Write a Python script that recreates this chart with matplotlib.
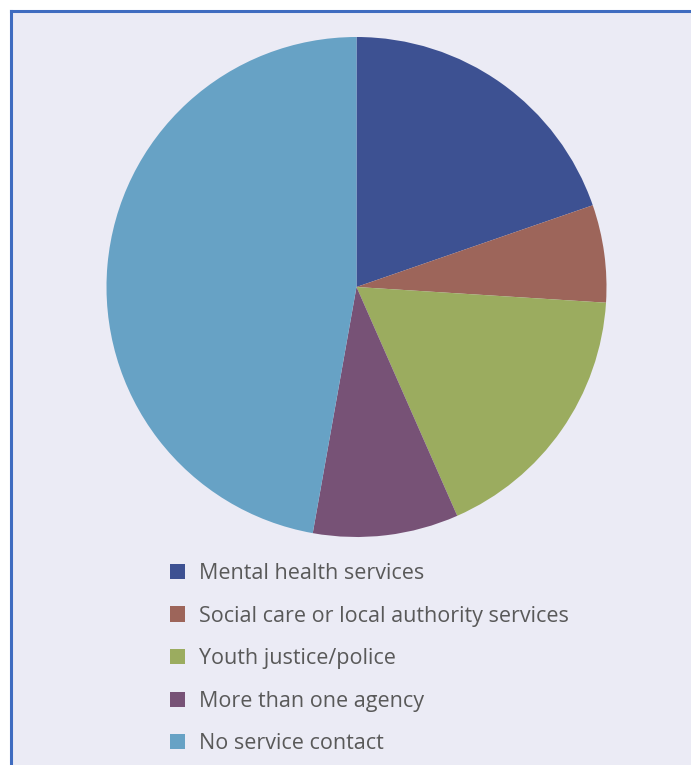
import matplotlib
matplotlib.use("Agg")
import matplotlib.pyplot as plt
from matplotlib.patches import Rectangle
from matplotlib.lines import Line2D

labels = ["Mental health services", "Social care or local authority services",
          "Youth justice/police", "More than one agency", "No service contact"]
shares = [19.7, 6.3, 17.4, 9.4, 47.2]
colors = ["#3D5192", "#9D655A", "#9BAC5F", "#775276", "#67A2C5"]

W, H = 691, 765
fig = plt.figure(figsize=(W / 100, H / 100), dpi=100, facecolor="white")

# panel background + blue frame (top and left)
fig.patches.append(Rectangle((11 / W, 0), 1, 1 - 11 / H, transform=fig.transFigure,
                             facecolor="#EBEBF5", edgecolor="none", zorder=-5))
fig.lines.append(Line2D([11 / W, 1], [1 - 11 / H, 1 - 11 / H], transform=fig.transFigure,
                        color="#3F6CC0", lw=2.2, zorder=-4))
fig.lines.append(Line2D([11 / W, 11 / W], [0, 1 - 11 / H], transform=fig.transFigure,
                        color="#3F6CC0", lw=2.2, zorder=-4))

cx, cy, r = 356.5, 287, 250
ax = fig.add_axes([(cx - r) / W, (H - cy - r) / H, 2 * r / W, 2 * r / H], zorder=2)
ax.set_facecolor("none")
wedges, _ = ax.pie(shares, colors=colors, startangle=90, counterclock=False,
                   radius=1, wedgeprops=dict(linewidth=0))
ax.set_xlim(-1, 1)
ax.set_ylim(-1, 1)
ax.axis("off")

leg = fig.legend(wedges, labels, loc="upper left",
                 bbox_to_anchor=(170 / W, 1 - 563 / H),
                 frameon=False,
                 handlelength=0.7, handleheight=0.7, handletextpad=0.65,
                 labelspacing=1.0, borderpad=0, borderaxespad=0,
                 prop={"family": "Open Sans", "size": 15.5})
leg.set_zorder(3)
for t in leg.get_texts():
    t.set_color("#595959")

fig.savefig("out.png", dpi=100, facecolor="white")
